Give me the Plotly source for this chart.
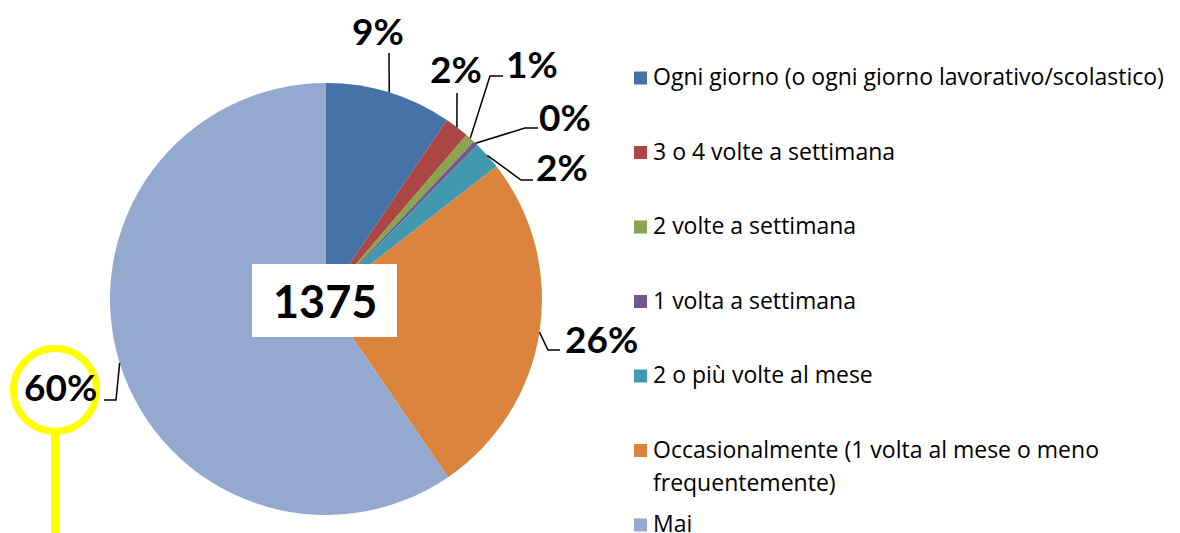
import math
import plotly.graph_objects as go

# ---- data ----
categories = [
    "Ogni giorno (o ogni giorno lavorativo/scolastico)",
    "3 o 4 volte a settimana",
    "2 volte a settimana",
    "1 volta a settimana",
    "2 o più volte al mese",
    "Occasionalmente (1 volta al mese o meno\nfrequentemente)",
    "Mai",
]
counts = [130, 25, 10, 5, 29, 357, 819]
colors = ["#4572A7", "#AA4643", "#89A54E", "#71588F", "#4198AF", "#DB843D", "#93A9CF"]

# ---- geometry (pixels) ----
W, H = 1180, 533
CX, CY, R = 326, 299, 216

def px(x):
    return x / W

def py(y):
    return 1 - y / H

# label layout: leader-line elbow points after the slice edge point, label centre
label_layout = [
    dict(path=[(389, 53)], text=(378, 30)),
    dict(path=[(457, 93)], text=(456, 68)),
    dict(path=[(490, 76), (503, 76)], text=(532, 63)),
    dict(path=[(525, 128), (538, 128)], text=(565, 117)),
    dict(path=[(521, 180), (533, 180)], text=(562, 167)),
    dict(path=[(548, 350), (560, 350)], text=(602, 338)),
    dict(path=[(116, 400), (104, 400)], text=(60, 386)),
]

total = sum(counts)

fig = go.Figure()
fig.add_trace(go.Pie(
    labels=[c.replace("\n", " ") for c in categories],
    values=counts,
    sort=False,
    direction="clockwise",
    rotation=0,
    marker=dict(colors=colors, line=dict(width=0)),
    textinfo="none",
    hoverinfo="label+value+percent",
    showlegend=False,
    domain=dict(x=[px(CX - R), px(CX + R)], y=[py(CY + R), py(CY - R)]),
))

shapes = []
annotations = []

LABEL_FONT = dict(family="Lato", size=37, color="#000000", weight="bold")

cum = 0
for i, v in enumerate(counts):
    mid = (cum + v / 2) / total * 2 * math.pi
    cum += v
    ex = CX + R * math.sin(mid)
    ey = CY - R * math.cos(mid)
    pts = [(ex, ey)] + label_layout[i]["path"]
    d = "M " + " L ".join(f"{px(a):.5f},{py(b):.5f}" for a, b in pts)
    shapes.append(dict(type="path", path=d, xref="paper", yref="paper",
                       line=dict(color="#000000", width=1.5), layer="above"))
    pct = round(v / total * 100)
    tx, ty = label_layout[i]["text"]
    annotations.append(dict(x=px(tx), y=py(ty), xref="paper", yref="paper",
                            text=f"{pct}%", showarrow=False,
                            xanchor="center", yanchor="middle", font=LABEL_FONT))

# centre total box
shapes.append(dict(type="rect", xref="paper", yref="paper",
                   x0=px(252), x1=px(397), y0=py(337), y1=py(264),
                   fillcolor="#FFFFFF", line=dict(width=0), layer="above"))
annotations.append(dict(x=px(325), y=py(301), xref="paper", yref="paper",
                        text=str(total), showarrow=False, xanchor="center", yanchor="middle",
                        font=dict(family="Lato", size=45, color="#000000", weight="bold")))

# yellow highlight circle + stem
shapes.append(dict(type="circle", xref="paper", yref="paper",
                   x0=px(13.5), x1=px(96.5), y0=py(431.5), y1=py(348.5),
                   line=dict(color="#FFFF00", width=7), layer="above"))
shapes.append(dict(type="line", xref="paper", yref="paper",
                   x0=px(55), x1=px(55), y0=py(433), y1=py(540),
                   line=dict(color="#FFFF00", width=8), layer="above"))

# custom legend
LEG_X, LEG_Y0, LEG_DY, LINE_DY = 634, 78, 74.5, 33
for i, (cat, col) in enumerate(zip(categories, colors)):
    yc = LEG_Y0 + i * LEG_DY
    shapes.append(dict(type="rect", xref="paper", yref="paper",
                       x0=px(LEG_X), x1=px(LEG_X + 13), y0=py(yc + 6.5), y1=py(yc - 6.5),
                       fillcolor=col, line=dict(width=0), layer="above"))
    for j, line in enumerate(cat.split("\n")):
        annotations.append(dict(x=px(LEG_X + 17), y=py(yc - 2 + j * LINE_DY), xref="paper", yref="paper",
                                text=line, showarrow=False, xanchor="left", yanchor="middle",
                                font=dict(family="Open Sans", size=23, color="#000000")))

fig.update_layout(
    width=W, height=H,
    margin=dict(l=0, r=0, t=0, b=0),
    paper_bgcolor="#FFFFFF",
    plot_bgcolor="#FFFFFF",
    shapes=shapes,
    annotations=annotations,
    showlegend=False,
)

fig.write_html("out.html", config={"displayModeBar": False},
               post_script="document.body.style.margin='0';document.body.style.overflow='hidden';")
